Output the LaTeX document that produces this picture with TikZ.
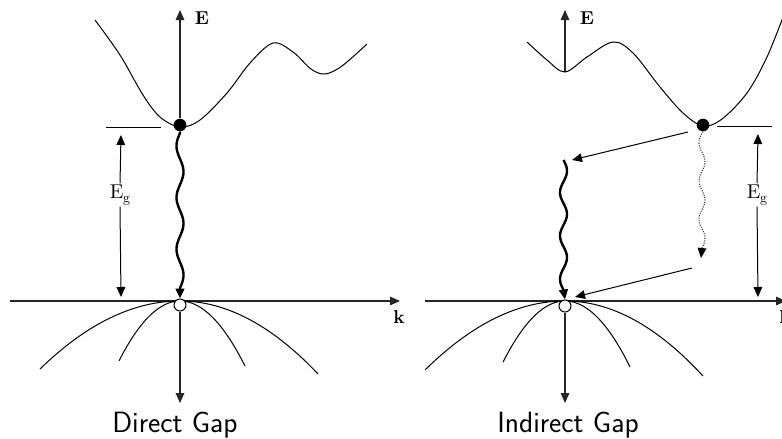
\documentclass[tikz,border=0pt]{standalone}
\usepackage{fontspec}
\setmainfont{lmroman10-regular.otf}[BoldFont=lmroman10-bold.otf]
\usetikzlibrary{arrows.meta,backgrounds}
\begin{document}
\begin{tikzpicture}[x=0.75pt,y=-0.75pt,
  tipped/.style={-{Triangle[length=7.5pt,width=6.5pt]}},
  ax/.style={line width=0.8pt,black!85,tipped},
  band/.style={line width=0.75pt},
  thinarrow/.style={line width=0.75pt,tipped},
  wave/.style={line width=1.8pt,tipped},
  dotwave/.style={line width=0.8pt,densely dotted,black!80,-{Triangle[length=7.5pt,width=6.5pt,black]}},
  fdot/.style={circle,fill=black,inner sep=0pt,minimum size=9.5pt},
  odot/.style={circle,draw=black,line width=0.75pt,fill=white,inner sep=0pt,minimum size=9pt},
  axlabel/.style={font=\fontsize{14}{16}\selectfont\bfseries,inner sep=0pt},
  eglabel/.style={font=\fontsize{15}{17}\selectfont,inner sep=1pt},
  title/.style={font=\fontsize{22}{26}\selectfont\sffamily,anchor=base,inner sep=0pt}]
\useasboundingbox (0,0) rectangle (782,439);
% ---------- left panel: direct gap ----------
\node[fdot] (cL) at (180,125) {};
\node[odot] (vL) at (180,305) {};
\coordinate (EtopL) at (180,10);
\coordinate (EbotL) at (180,403);
\coordinate (kstartL) at (10,301);
\coordinate (kendL) at (400,301);
\node[axlabel] (ElabL) at (202,18) {E};
\node[axlabel] (klabL) at (399,317) {k};
\coordinate (tickLa) at (106,127);
\coordinate (tickLb) at (161,127);
\node[eglabel] (egL) at (120,195) {E\kern-0.3pt\raisebox{-0.4ex}{\fontsize{10.5}{11}\selectfont g}};
\coordinate (egLtop) at (121,135);
\coordinate (egLbot) at (121,297);
\node[title] (tL) at (175,432) {Direct Gap};
% ---------- right panel: indirect gap ----------
\node[fdot] (cR) at (703,125) {};
\node[odot] (vR) at (565,306) {};
\coordinate (EtopR) at (565,10);
\coordinate (EbaseR) at (565,72);
\coordinate (EbotR) at (565,403);
\coordinate (kstartR) at (425,301);
\coordinate (kendR) at (786,301);
\node[axlabel] (ElabR) at (587,18) {E};
\node[axlabel] (klabR) at (785,317) {k};
\coordinate (tickRa) at (717,126);
\coordinate (tickRb) at (772,126);
\node[eglabel] (egR) at (757,195) {E\kern-0.3pt\raisebox{-0.4ex}{\fontsize{10.5}{11}\selectfont g}};
\coordinate (egRtop) at (758,134);
\coordinate (egRbot) at (758,297);
\coordinate (a1s) at (688,132);
\coordinate (a1e) at (572,160);
\coordinate (a2s) at (692,268);
\coordinate (a2e) at (575,297);
\node[title] (tR) at (568,432) {Indirect Gap};

\begin{scope}[on background layer]
% left axes
\draw[ax] (cL.north) -- (EtopL);
\draw[ax] (vL.south) -- (EbotL);
\draw[ax] (kstartL) -- (kendL);
\draw[band] (tickLa) -- (tickLb);
\draw[thinarrow] (egL.north) -- (egLtop);
\draw[thinarrow] (egL.south) -- (egLbot);
% left conduction band
\draw[band] plot[smooth,tension=0.55] coordinates {(95,20) (120,55) (143,95) (160,117) (180,127) (200,120) (227,93) (250,63) (273,43) (293,52) (311,69) (325,74) (342,66) (367,44)};
% left valence bands
\draw[band] plot[domain=180:40,samples=50] (\x,{301+0.347*((\x-180)/10)^2});
\draw[band] plot[domain=180:318,samples=50] (\x,{301+0.383*((\x-180)/10)^2});
\draw[band] plot[domain=180:119,samples=40] (\x,{301+1.61*((\x-180)/10)^2});
\draw[band] plot[domain=180:245,samples=40] (\x,{301+1.54*((\x-180)/10)^2});
% left photon
\draw[wave] (cL.south) -- plot[smooth,samples=80,domain=133:288,variable=\t] ({180-3.5*sin(1080*((\t-133)/155))},\t) -- (vL.north);

% right axes
\draw[ax] (EbaseR) -- (EtopR);
\draw[ax] (vR.south) -- (EbotR);
\draw[ax] (kstartR) -- (kendR);
\draw[band] (tickRa) -- (tickRb);
\draw[thinarrow] (egR.north) -- (egRtop);
\draw[thinarrow] (egR.south) -- (egRbot);
% right conduction band
\draw[band] plot[smooth,tension=0.55] coordinates {(527,42) (547,60) (565,72) (587,57) (613,42) (633,53) (660,87) (683,113) (703,126) (722,119) (747,93) (767,57) (785,12)};
% right valence bands
\draw[band] plot[domain=565:425,samples=50] (\x,{301+0.352*((\x-565)/10)^2});
\draw[band] plot[domain=565:703,samples=50] (\x,{301+0.394*((\x-565)/10)^2});
\draw[band] plot[domain=565:503,samples=40] (\x,{301+1.59*((\x-565)/10)^2});
\draw[band] plot[domain=565:630,samples=40] (\x,{301+1.56*((\x-565)/10)^2});
% phonon-assisted transitions
\draw[thinarrow] (a1s) -- (a1e);
\draw[thinarrow] (a2s) -- (a2e);
\draw[wave] plot[smooth,samples=80,domain=160:290,variable=\t] ({563.5+3.5*sin(1080*((\t-160)/130))},\t) -- (vR.north);
\draw[dotwave] (cR.south) -- plot[smooth,samples=80,domain=133:248,variable=\t] ({702-3*sin(1080*((\t-133)/115))},\t) -- (701,258);
\end{scope}
\end{tikzpicture}
\end{document}
